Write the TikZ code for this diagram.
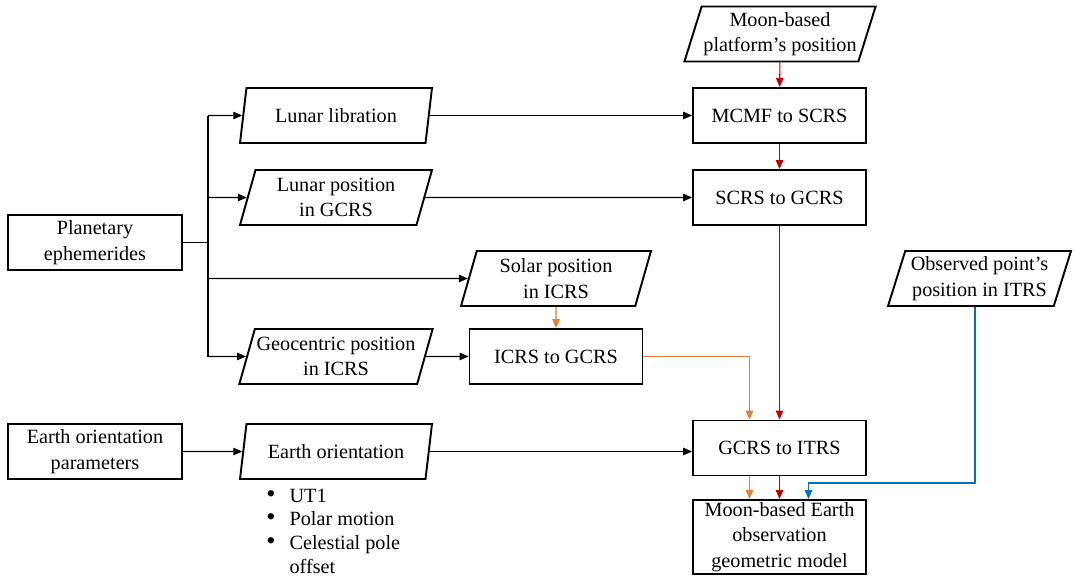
\documentclass[tikz,border=0pt]{standalone}
\usepackage{fontspec}
\setmainfont{LiberationSerif}[Extension=.ttf, UprightFont=*-Regular, BoldFont=*-Bold]
\usetikzlibrary{arrows.meta,shapes.geometric}
\definecolor{arrowred}{RGB}{192,0,0}
\definecolor{arroworange}{RGB}{237,125,49}
\definecolor{arrowblue}{RGB}{0,112,192}
\tikzset{
    procbox/.style={draw, line width=1.1pt, minimum width=3.46cm, minimum height=1.1cm,
        align=center, inner sep=1pt},
    databox/.style={trapezium, trapezium left angle=70, trapezium right angle=110,
        trapezium stretches body, draw, line width=1.1pt, minimum width=3.84cm,
        minimum height=1.1cm, align=center, inner sep=1pt},
    flow/.style={-{Triangle[length=1.8mm,width=1.5mm]}, line width=0.6pt},
}
\newcommand{\bigbul}{{\fontsize{15}{13.6}\selectfont\textbullet}}

\begin{document}
\begin{tikzpicture}[x=0.02cm, y=-0.02cm, font=\rmfamily\fontsize{11.5}{14.5}\selectfont]
\useasboundingbox (0,0) rectangle (1074,578);

% data and process boxes
\node[databox, minimum width=3.8cm] (plat) at (780,34) {Moon-based\\platform’s position};
\node[procbox] (mcmf) at (779.5,115.5) {MCMF to SCRS};
\node[procbox] (scrs) at (779.5,197.5) {SCRS to GCRS};
\node[databox] (lib) at (336,115.5) {Lunar libration};
\node[databox] (lpos) at (336,197.5) {Lunar position\\in GCRS};
\node[procbox, minimum width=3.48cm] (plan) at (95,242.5) {Planetary\\ephemerides};
\node[databox, minimum width=3.8cm] (sol) at (556,278.5) {Solar position\\in ICRS};
\node[databox] (geo) at (336,356.5) {Geocentric position\\in ICRS};
\node[procbox] (icrs) at (556,356.5) {ICRS to GCRS};
\node[databox, minimum width=3.66cm] (obs) at (979.5,278.5) {Observed point’s\\position in ITRS};
\node[procbox, minimum width=3.48cm] (eop) at (95,451.5) {Earth orientation\\parameters};
\node[databox] (eo) at (336,451.5) {Earth orientation};
\node[procbox] (gitrs) at (779.5,448) {GCRS to ITRS};
\node[procbox, minimum height=1.48cm] (model) at (779.5,537)
    {Moon-based Earth\\observation\\geometric model};
\node[anchor=north west, inner sep=0pt, font=\rmfamily\fontsize{11.5}{13.6}\selectfont] (eolist) at (266,485)
    {\begin{tabular}{@{}l@{\hspace{8pt}}l@{}}
     \bigbul & UT1\\
     \bigbul & Polar motion\\
     \bigbul & Celestial pole\\
             & offset
     \end{tabular}};

% ephemerides trunk
\coordinate (trunk) at (208,242.5);
\draw[line width=0.6pt] (plan) -- (trunk);
\draw[line width=0.6pt] (trunk |- lib) -- (trunk |- geo);
\draw[flow] (trunk |- lib) -- (lib);
\draw[flow] (trunk |- lpos) -- (lpos);
\draw[flow] (trunk |- sol) -- (sol);
\draw[flow] (trunk |- geo) -- (geo);

% black flows
\draw[flow] (lib) -- (mcmf);
\draw[flow] (lpos) -- (scrs);
\draw[flow] (geo) -- (icrs);
\draw[flow] (eop) -- (eo);
\draw[flow] (eo.east) -- (eo.east -| gitrs.west);

% red flows
\draw[flow, arrowred] (plat) -- (mcmf);
\draw[flow, arrowred] (mcmf) -- (scrs);
\draw[flow, arrowred] (scrs) -- (gitrs);
\draw[flow, arrowred] (gitrs) -- (model);

% orange flows
\draw[flow, arroworange] (sol) -- (icrs);
\draw[flow, arroworange] (icrs.east) -| ([xshift=-0.6cm]gitrs.north);
\draw[flow, arroworange] ([xshift=-0.6cm]gitrs.south) -- ([xshift=-0.6cm]model.north);

% blue flow
\coordinate (bend) at (975,483);
\draw[flow, arrowblue] (obs.south -| bend) -- (bend) -| ([xshift=0.58cm]model.north);
\end{tikzpicture}
\end{document}
